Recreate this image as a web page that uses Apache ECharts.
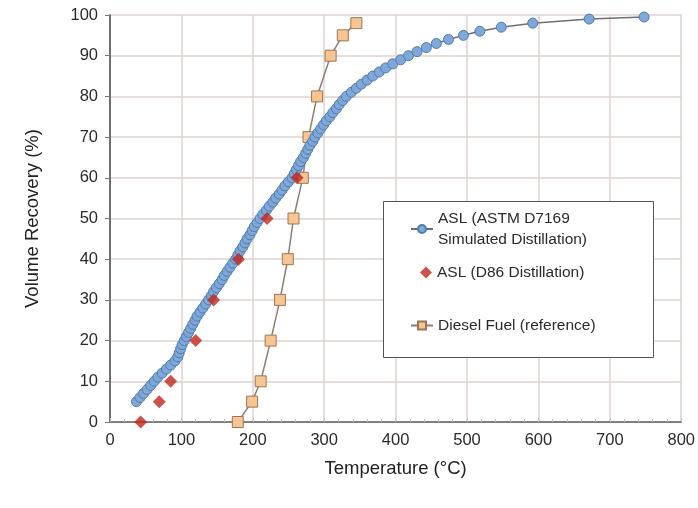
<!DOCTYPE html>
<html>
<head>
<meta charset="utf-8">
<script src="https://cdn.jsdelivr.net/npm/echarts@6/dist/echarts.min.js"></script>
<style>
  html, body { margin: 0; padding: 0; background: #fff; }
  #chart { width: 698px; height: 508px; }
</style>
</head>
<body>
<div id="chart"></div>
<script>
// ASL simulated distillation (ASTM D7169): temperature (°C) vs volume recovered (%)
const simPct = [5, 6, 7, 8, 9, 10, 11, 12, 13, 14, 15, 16, 17, 18, 19, 20,
  21, 22, 23, 24, 25, 26, 27, 28, 29, 30, 31, 32, 33, 34, 35, 36, 37, 38, 39, 40,
  41, 42, 43, 44, 45, 46, 47, 48, 49, 50, 51, 52, 53, 54, 55, 56, 57, 58, 59, 60,
  61, 62, 63, 64, 65, 66, 67, 68, 69, 70, 71, 72, 73, 74, 75, 76, 77, 78, 79, 80,
  81, 82, 83, 84, 85, 86, 87, 88, 89, 90, 91, 92, 93, 94, 95, 96, 97, 98, 99, 99.5];
const simTemp = [37, 42, 47, 52, 57, 62, 67, 73, 79, 85, 91, 95, 97, 99, 101, 104,
  107, 110, 113, 116, 119, 122, 126, 130, 134, 138, 142, 145, 149, 153, 157, 160, 164, 168, 172, 176,
  179, 182, 186, 189, 192, 196, 199, 202, 206, 210, 214, 219, 223, 228, 232, 237, 241, 245, 250, 255,
  258, 261, 264, 267, 271, 274, 277, 280, 284, 287, 291, 295, 299, 303, 308, 312, 317, 321, 326, 331,
  338, 345, 352, 360, 368, 377, 386, 396, 407, 418, 430, 443, 457, 474, 495, 518, 548, 592, 671, 748];

// ASL D86 distillation
const d86Pct = [0, 5, 10, 20, 30, 40, 50, 60];
const d86Temp = [43, 69, 85, 120, 145, 180, 220, 262];

// Diesel fuel reference
const dieselPct = [0, 5, 10, 20, 30, 40, 50, 60, 70, 80, 90, 95, 98];
const dieselTemp = [179, 199, 211, 225, 238, 249, 257, 270, 278, 290, 309, 326, 345];

const xTicks = [0, 100, 200, 300, 400, 500, 600, 700, 800];
const yTicks = [0, 10, 20, 30, 40, 50, 60, 70, 80, 90, 100];

const simName = 'ASL (ASTM D7169\nSimulated Distillation)';
const d86Name = 'ASL (D86 Distillation)';
const dieselName = 'Diesel Fuel (reference)';

const pairs = (xs, ys) => xs.map((x, i) => [x, ys[i]]);

const font = 'Liberation Sans, Arial, sans-serif';
const gridColor = '#dcd3cf';
const legendText = { fontSize: 15.5, color: '#2a2a2a', fontFamily: font, lineHeight: 21 };

const myChart = echarts.init(document.getElementById('chart'));
myChart.setOption({
  backgroundColor: '#ffffff',
  animation: false,
  textStyle: { fontFamily: font },
  grid: { left: 110, right: 16, top: 15, bottom: 86 },
  graphic: [{
    type: 'rect',
    shape: { x: 383.5, y: 201.5, width: 270, height: 156 },
    style: { fill: '#ffffff', stroke: '#555', lineWidth: 1 },
    z: 50
  }],
  legend: [{
    left: 405, top: 203,
    itemWidth: 22, itemHeight: 10,
    data: [simName],
    textStyle: legendText,
    z: 60
  }, {
    left: 415, top: 257,
    itemWidth: 12, itemHeight: 12,
    data: [d86Name],
    textStyle: legendText,
    z: 60
  }, {
    left: 405, top: 310,
    itemWidth: 22, itemHeight: 10,
    data: [dieselName],
    textStyle: legendText,
    z: 60
  }],
  xAxis: [{
    type: 'value',
    min: 0, max: 800, interval: 100,
    name: 'Temperature (°C)',
    nameLocation: 'middle', nameGap: 37,
    nameTextStyle: { fontSize: 18.5, color: '#222', fontFamily: font },
    axisLine: { show: true, lineStyle: { color: '#c8bcb8', width: 1 } },
    axisTick: { show: true, length: 4, inside: true, lineStyle: { color: '#c8bcb8' } },
    minorTick: { show: true, splitNumber: 5, length: 3, lineStyle: { color: '#c8bcb8' } },
    axisLabel: {
      fontSize: 16.5, color: '#2a2a2a', margin: 10,
      formatter: v => xTicks.includes(v) ? String(v) : ''
    },
    splitLine: { show: true, lineStyle: { color: gridColor, width: 1.5 } }
  }, {
    type: 'value', position: 'top', min: 0, max: 800,
    axisLine: { show: true, lineStyle: { color: '#666', width: 1.5 } },
    axisTick: { show: false }, axisLabel: { show: false }, splitLine: { show: false }
  }],
  yAxis: [{
    type: 'value',
    min: 0, max: 100, interval: 10,
    name: 'Volume Recovery (%)',
    nameLocation: 'middle', nameGap: 68,
    nameTextStyle: { fontSize: 18.5, color: '#222', fontFamily: font },
    axisLine: { show: true, lineStyle: { color: '#777', width: 1.5 } },
    axisTick: { show: true, length: 5, lineStyle: { color: '#777' } },
    axisLabel: {
      fontSize: 16.5, color: '#2a2a2a', margin: 12,
      formatter: v => yTicks.includes(v) ? String(v) : ''
    },
    splitLine: { show: true, lineStyle: { color: gridColor, width: 1.5 } }
  }, {
    type: 'value', position: 'right', min: 0, max: 100,
    axisLine: { show: true, lineStyle: { color: '#666', width: 1.5 } },
    axisTick: { show: false }, axisLabel: { show: false }, splitLine: { show: false }
  }],
  series: [{
    name: simName,
    type: 'line',
    data: pairs(simTemp, simPct),
    symbol: 'circle', symbolSize: 10,
    lineStyle: { color: '#6f6f6f', width: 1.5 },
    itemStyle: { color: '#7fa8d8', borderColor: '#4f7cb0', borderWidth: 1 },
    z: 3
  }, {
    name: d86Name,
    type: 'scatter',
    data: pairs(d86Temp, d86Pct),
    symbol: 'diamond', symbolSize: 13,
    itemStyle: { color: '#c0271c' },
    z: 4
  }, {
    name: dieselName,
    type: 'line',
    data: pairs(dieselTemp, dieselPct),
    symbol: 'rect', symbolSize: 11,
    lineStyle: { color: '#8d7d74', width: 1.5 },
    itemStyle: { color: '#f6c591', borderColor: '#9a7656', borderWidth: 1 },
    z: 2
  }]
});
window.onresize = function () { myChart.resize(); };
</script>
</body>
</html>
